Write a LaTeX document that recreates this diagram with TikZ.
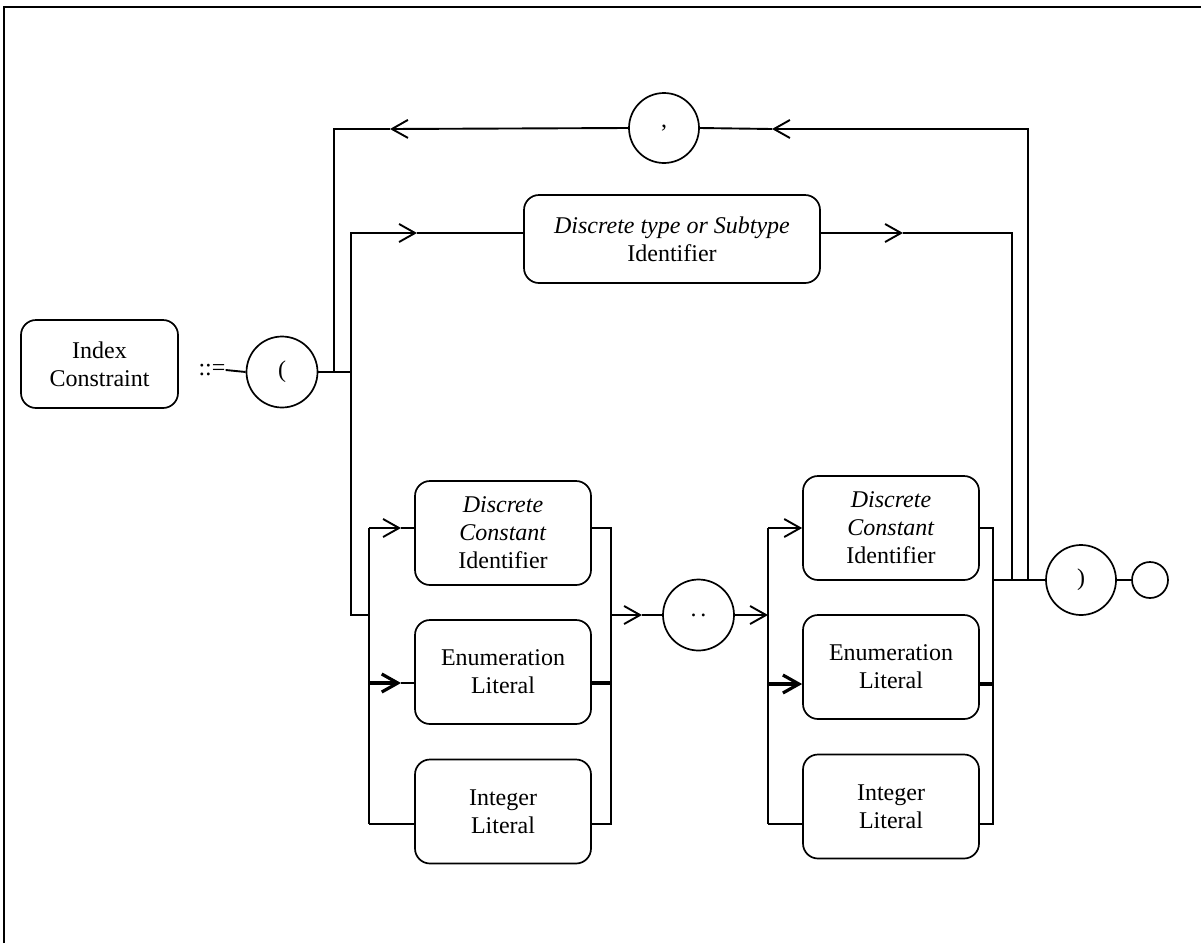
\documentclass[tikz,border=0pt]{standalone}
\usepackage{fontspec}
\setmainfont{Liberation Serif}
\usetikzlibrary{arrows.meta}
\begin{document}
\begin{tikzpicture}[x=1pt,y=-1pt,
  ln/.style={line width=1.9pt},
  thk/.style={line width=3.2pt},
  arr/.style={ln,-{Straight Barb[length=16pt,width=18pt,line width=1.9pt]}},
  tharr/.style={thk,-{Straight Barb[length=16pt,width=18pt,line width=3.2pt]}},
  txt/.style={font=\fontsize{24}{28}\selectfont},
  rbox/.style={txt,draw,line width=1.7pt,rounded corners=15pt,inner sep=0pt,align=center},
  cbox/.style={rbox,minimum width=176pt,minimum height=104pt},
  term/.style={txt,draw,line width=1.7pt,circle,inner sep=0pt,minimum size=71pt}]
\useasboundingbox (0,0) rectangle (1201,943);
\draw[line width=2pt] (4,943) -- (4,7) -- (1201,7);
% nodes
\node[rbox,minimum width=157pt,minimum height=88pt] (idx) at (99.5,364) {Index\\Constraint};
\node[txt,inner sep=0pt] (def) at (212,370) {::=};
\node[term] (lp) at (282,372) {(};
\node[term,minimum size=70pt] (comma) at (664,128) {,};
\node[rbox,minimum width=296pt,minimum height=88pt] (dt) at (672,239) {\textit{Discrete type or Subtype}\\Identifier};
\node[cbox] (lb1) at (503,533) {\textit{Discrete}\\\textit{Constant}\\Identifier};
\node[cbox] (lb2) at (503,672) {Enumeration\\Literal};
\node[cbox] (lb3) at (503,811.5) {Integer\\Literal};
\node[term] (dots) at (698.5,615) {.\,.};
\node[cbox] (rb1) at (891,528) {\textit{Discrete}\\\textit{Constant}\\Identifier};
\node[cbox] (rb2) at (891,667) {Enumeration\\Literal};
\node[cbox] (rb3) at (891,806.5) {Integer\\Literal};
\node[term,minimum size=70pt] (rp) at (1081,580) {)};
\node[draw,line width=1.7pt,circle,inner sep=0pt,minimum size=36pt] (endc) at (1150,580) {};
% junction coordinates
\coordinate (jA) at (334,372);
\coordinate (jB) at (351,372);
\coordinate (tl) at (334,129);
\coordinate (tr) at (1028,129);
\coordinate (br) at (1028,580);
\coordinate (ul) at (351,233);
\coordinate (ur) at (1012,233);
\coordinate (urb) at (1012,580);
\coordinate (ll) at (351,615);
\coordinate (lj) at (369,615);
\coordinate (v1t) at (369,528);
\coordinate (v1m) at (369,683);
\coordinate (v1b) at (369,824);
\coordinate (v2t) at (611,528);
\coordinate (v2m) at (611,615);
\coordinate (v2e) at (611,683);
\coordinate (v2b) at (611,824);
\coordinate (v3t) at (768,528);
\coordinate (v3m) at (768,615);
\coordinate (v3e) at (768,684);
\coordinate (v3b) at (768,824);
\coordinate (v4t) at (993,528);
\coordinate (v4m) at (993,580);
\coordinate (v4e) at (993,684);
\coordinate (v4b) at (993,824);
\coordinate (a1) at (390,129);
\coordinate (a2) at (772,129);
\coordinate (a3) at (417,233);
\coordinate (a4) at (903,233);
\coordinate (a5) at (401,528);
\coordinate (a6) at (401,683);
\coordinate (a7) at (642,615);
% connectors
\draw[ln] (def.east) -- (lp.west);
\draw[ln] (lp.east) -- (jB);
% top loop
\draw[arr] (br) -- (tr) -- (a2);
\draw[ln] (a2) -- (comma.east);
\draw[arr] (comma.west) -- (a1);
\draw[ln] (a1) -- (tl) -- (jA);
% upper branch
\draw[arr] (jB) -- (ul) -- (a3);
\draw[ln] (a3) -- (dt.west |- a3);
\draw[arr] (dt.east |- a4) -- (a4);
\draw[ln] (a4) -- (ur) -- (urb);
% lower branch, first column
\draw[ln] (jB) -- (ll) -- (lj);
\draw[ln] (v1t) -- (v1b);
\draw[arr] (v1t) -- (a5);
\draw[ln] (a5) -- (lb1.west |- a5);
\draw[tharr] (v1m) -- (a6);
\draw[ln] (a6) -- (lb2.west |- a6);
\draw[ln] (v1b) -- (lb3.west |- v1b);
\draw[ln] (lb1.east |- v2t) -- (v2t) -- (v2b) -- (lb3.east |- v2b);
\draw[thk] (lb2.east |- v2e) -- (v2e);
% range
\draw[arr] (v2m) -- (a7);
\draw[ln] (a7) -- (dots.west);
\draw[arr] (dots.east) -- (v3m);
% second column
\draw[ln] (v3t) -- (v3b);
\draw[arr] (v3t) -- (rb1.west |- v3t);
\draw[tharr] (v3e) -- (rb2.west |- v3e);
\draw[ln] (v3b) -- (rb3.west |- v3b);
\draw[ln] (rb1.east |- v4t) -- (v4t) -- (v4b) -- (rb3.east |- v4b);
\draw[thk] (rb2.east |- v4e) -- (v4e);
\draw[ln] (v4m) -- (rp.west);
\draw[ln] (rp.east) -- (endc.west);
\end{tikzpicture}
\end{document}
